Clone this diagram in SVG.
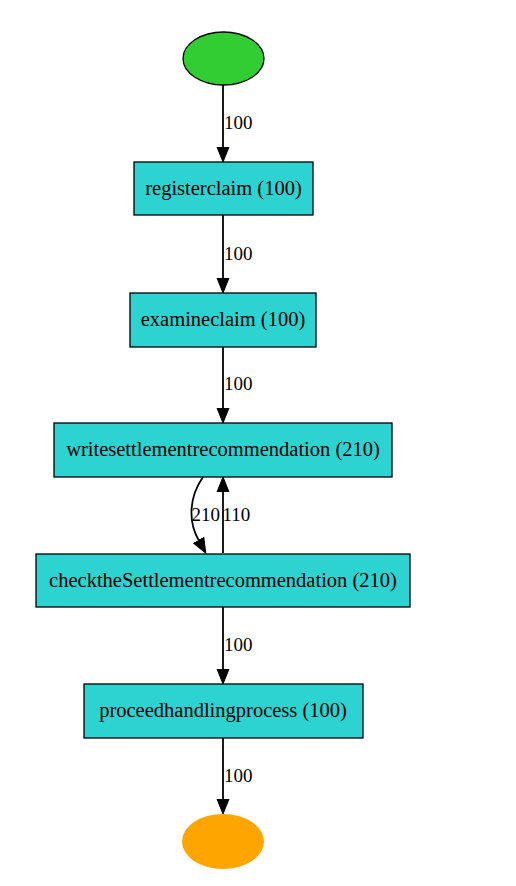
<svg xmlns="http://www.w3.org/2000/svg" width="516" height="886" viewBox="0 0 516 886">
<style>
.node rect{fill:#2cd3d1;stroke:#000;stroke-width:1.3}
.node text{font-family:"Liberation Serif",serif;font-size:20.5px;text-anchor:middle;fill:#000}
.edges path{fill:none;stroke:#000;stroke-width:1.8}
.lbl{font-family:"Liberation Serif",serif;font-size:19px;fill:#000}
</style>
<defs>
<marker id="ah" markerUnits="userSpaceOnUse" markerWidth="17" markerHeight="14" refX="0" refY="6.5" orient="auto" viewBox="0 0 17 13">
<path d="M0,0.5 L15,6.5 L0,12.5 z" fill="#000" stroke="#000" stroke-width="1"/>
</marker>
</defs>
<rect width="516" height="886" fill="#fff"/>
<g class="edges" id="edges">
<path d="M223,85 L223,147" marker-end="url(#ah)"/>
<path d="M223,215 L223,278" marker-end="url(#ah)"/>
<path d="M223,347 L223,408" marker-end="url(#ah)"/>
<path d="M203,477 C189,497 188,521 198.5,540" marker-end="url(#ah)"/>
<path d="M223,553 L223,492" marker-end="url(#ah)"/>
<path d="M223,607 L223,669" marker-end="url(#ah)"/>
<path d="M223,738 L223,799" marker-end="url(#ah)"/>
<text class="lbl" x="224" y="129">100</text>
<text class="lbl" x="224" y="259.5">100</text>
<text class="lbl" x="224" y="390">100</text>
<text class="lbl" x="191.5" y="520.5">210</text>
<text class="lbl" x="222.5" y="520.5">110</text>
<text class="lbl" x="224" y="651">100</text>
<text class="lbl" x="224" y="781.5">100</text>
</g>
<g id="start" class="node"><ellipse cx="223.5" cy="58.5" rx="40.5" ry="26.5" fill="#32cd32" stroke="#000" stroke-width="1.3"/></g>
<g id="registerclaim" class="node"><rect x="134" y="162" width="179" height="53"/><text x="223.5" y="194.5">registerclaim (100)</text></g>
<g id="examineclaim" class="node"><rect x="130" y="293" width="186" height="54"/><text x="223" y="326">examineclaim (100)</text></g>
<g id="writesettlementrecommendation" class="node"><rect x="54" y="423" width="338" height="54"/><text x="223" y="456">writesettlementrecommendation (210)</text></g>
<g id="checktheSettlementrecommendation" class="node"><rect x="36" y="554" width="374" height="53"/><text x="223" y="586.5">checktheSettlementrecommendation (210)</text></g>
<g id="proceedhandlingprocess" class="node"><rect x="84" y="684" width="279" height="54"/><text x="223" y="717">proceedhandlingprocess (100)</text></g>
<g id="end" class="node"><ellipse cx="223" cy="841.5" rx="41" ry="27.5" fill="#ffa500"/></g>
</svg>
